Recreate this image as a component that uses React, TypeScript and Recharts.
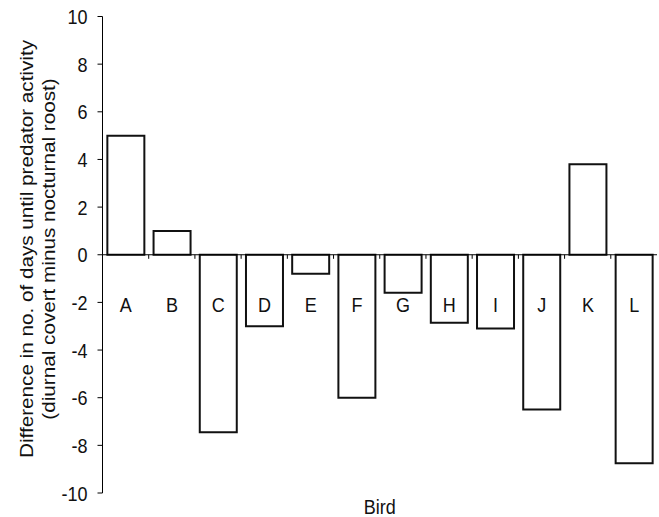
import { BarChart, Bar, XAxis, YAxis, ReferenceLine, LabelList } from 'recharts'

const birds = ['A', 'B', 'C', 'D', 'E', 'F', 'G', 'H', 'I', 'J', 'K', 'L']
const diffDays = [5.0, 1.0, -7.45, -3.0, -0.8, -6.0, -1.6, -2.85, -3.1, -6.5, 3.8, -8.75]
const yTicks = [-10, -8, -6, -4, -2, 0, 2, 4, 6, 8, 10]

const data = birds.map((bird, i) => ({ bird, value: diffDays[i] }))

const FONT = 'Liberation Sans, Arial, Helvetica, sans-serif'
const SIZE = 18
// the source figure is stretched vertically a little
const STRETCH = 1.16
const INK = '#111'

function YTick({ x, y, payload }: any) {
  return (
    <text
      transform={`translate(${x},${y}) scale(1,${STRETCH})`}
      textAnchor="end"
      dy="0.36em"
      fontFamily={FONT}
      fontSize={SIZE}
      fill={INK}
    >
      {payload.value}
    </text>
  )
}

function BirdLabel(props: any) {
  const { x, y, width, height, value } = props
  const v = diffDays[birds.indexOf(value)]
  const zero = height < 0 || v >= 0 ? y + height : y
  return (
    <text
      transform={`translate(${x + width / 2},${zero + 57}) scale(1,${STRETCH})`}
      textAnchor="middle"
      fontFamily={FONT}
      fontSize={SIZE}
      fill={INK}
    >
      {value}
    </text>
  )
}

function XTitle({ viewBox }: any) {
  const { x, y, width } = viewBox
  return (
    <text
      transform={`translate(${x + width / 2},${y + 21}) scale(1,${STRETCH})`}
      textAnchor="middle"
      fontFamily={FONT}
      fontSize={SIZE}
      fill={INK}
    >
      Bird
    </text>
  )
}

export default function App() {
  return (
    <div style={{ position: 'absolute', left: 0, top: 0, background: '#fff' }}>
      <BarChart
        width={659}
        height={517}
        data={data}
        margin={{ top: 16.5, right: 2, bottom: 0, left: 0 }}
        barCategoryGap="10.5%"
      >
        <XAxis
          dataKey="bird"
          height={24}
          axisLine={false}
          tickLine={false}
          tick={false}
          label={<XTitle />}
        />
        <YAxis
          width={102.5}
          domain={[-10, 10]}
          ticks={yTicks}
          interval={0}
          tickSize={5}
          tickMargin={10}
          tick={<YTick />}
          axisLine={{ stroke: '#000' }}
          tickLine={{ stroke: '#000' }}
        />
        <ReferenceLine y={0} stroke="#000" strokeWidth={1} />
        {birds.map((b) => (
          <ReferenceLine
            key={b}
            segment={[{ x: b, y: 0 }, { x: b, y: -0.17 }]}
            position="end"
            stroke="#000"
            strokeWidth={1}
          />
        ))}
        <Bar dataKey="value" fill="#fff" stroke={INK} strokeWidth={2} isAnimationActive={false}>
          <LabelList dataKey="bird" content={<BirdLabel />} />
        </Bar>
      </BarChart>
      <svg
        width={659}
        height={517}
        style={{ position: 'absolute', left: 0, top: 0, pointerEvents: 'none' }}
      >
        <g fontFamily={FONT} fontSize={SIZE} fill={INK} textAnchor="middle">
          <text transform={`translate(32.5,249) rotate(-90) scale(1.15,1)`}>
            Difference in no. of days until predator activity
          </text>
          <text transform={`translate(54.5,249) rotate(-90) scale(1.15,1)`}>
            (diurnal covert minus nocturnal roost)
          </text>
        </g>
      </svg>
    </div>
  )
}
